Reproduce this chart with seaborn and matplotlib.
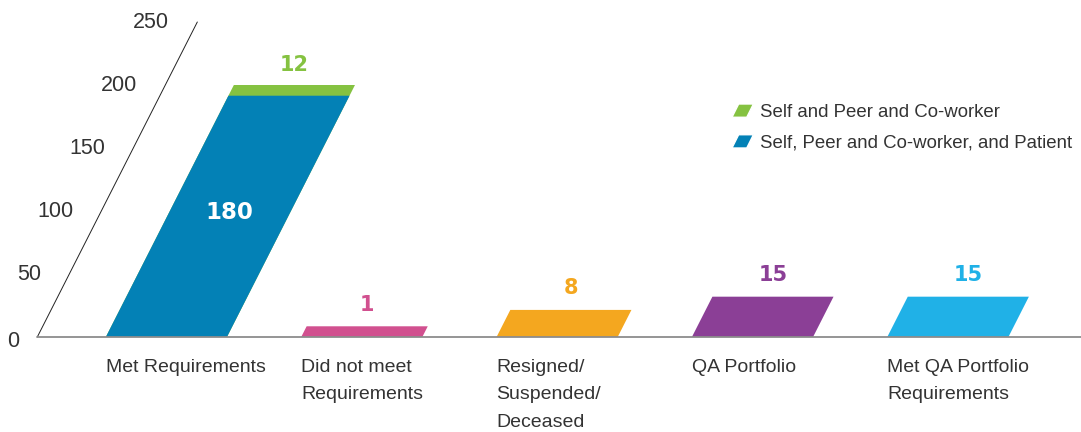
import numpy as np
import matplotlib
matplotlib.use('Agg')
import matplotlib.pyplot as plt
from matplotlib.transforms import Affine2D
from matplotlib.patches import Patch, Polygon
from matplotlib.legend_handler import HandlerPatch
import seaborn as sns

# data (heights as drawn on the slanted axis, labels as printed)
categories = ['Met Requirements', 'Did not meet\nRequirements', 'Resigned/\nSuspended/\nDeceased',
              'QA Portfolio', 'Met QA Portfolio\nRequirements']
bar_heights = [191.5, 8.5, 21.5, 32, 32]
bar_labels = ['180', '1', '8', '15', '15']
bar_colors = ['#0381b6', '#d1508f', '#f4a71f', '#8b3f96', '#20b1e7']
cap_height = [200]          # green segment stacked on the first bar
cap_label = '12'
cap_color = '#85c241'
legend_labels = ['Self and Peer and Co-worker', 'Self, Peer and Co-worker, and Patient']
yticks = [0, 50, 100, 150, 200, 250]

sns.set_style('white')
plt.rcParams['font.family'] = ['Liberation Sans', 'DejaVu Sans']

fig = plt.figure(figsize=(10.81, 4.32), dpi=100)
ax = fig.add_axes([0, 0, 1, 1])

# pixel geometry
px_x = 195.36   # px per category
x0 = 166.4      # px of first category centre
px_y = 1.26     # px per unit
base = 337      # baseline px from top
slope = 0.508   # horizontal px per vertical px
k = slope * px_y / px_x
skew = Affine2D().skew(np.arctan(k), 0) + ax.transData

sns.barplot(x=[categories[0]], y=cap_height, order=categories, color=cap_color,
            width=0.62, linewidth=0, saturation=1, ax=ax)
sns.barplot(x=categories, y=bar_heights, order=categories, hue=categories, palette=bar_colors,
            width=0.62, linewidth=0, saturation=1, legend=False, ax=ax)
for p in ax.patches:
    p.set_transform(skew)
    p.set_edgecolor('none')

ax.set_xlim(-x0 / px_x, (1081 - x0) / px_x)
ax.set_ylim(-(432 - base) / px_y, base / px_y)
ax.axis('off')

# baseline and slanted value axis
ax.axhline(0, xmin=37 / 1081, xmax=1, color='#8c8c8c', lw=1.3, zorder=3)
ax_x = (37.3 - x0) / px_x
ax.plot([ax_x, ax_x], [0, 250], transform=skew, color='#222222', lw=0.7)
x_min = (19 - x0) / px_x
for v in yticks:
    tx = max(ax_x + k * v - 28 / px_x, x_min)
    ty = v if v > 0 else -3.5
    ax.text(tx, ty, str(v), ha='right', va='center', fontsize=15.5, color='#333333')

# value labels
vfont = 'DejaVu Sans'
for i, (h, lab, c) in enumerate(zip(bar_heights, bar_labels, bar_colors)):
    if i == 0:
        ax.text(i + k * (h / 2 + 3), h / 2 + 3, lab, ha='center', va='center', fontsize=16.5,
                fontweight='bold', color='white', family=vfont)
    else:
        ax.text(i + k * h, h + 17, lab, ha='center', va='center', fontsize=15,
                fontweight='bold', color=c, family=vfont)
ax.text(k * cap_height[0], cap_height[0] + 16, cap_label, ha='center', va='center',
        fontsize=15, fontweight='bold', color=cap_color, family=vfont)

# category labels
for i, cat in enumerate(categories):
    ax.text(i - 0.31, -17.5, cat, ha='left', va='top', fontsize=14, color='#333333',
            linespacing=1.8)


def skew_patch(legend, orig_handle, xdescent, ydescent, width, height, fontsize):
    s = 0.5 * height
    return Polygon([[-xdescent, -ydescent], [-xdescent + width - s, -ydescent],
                    [-xdescent + width, -ydescent + height], [-xdescent + s, -ydescent + height]])


handles = [Patch(facecolor=cap_color), Patch(facecolor=bar_colors[0])]
ax.legend(handles, legend_labels, handler_map={Patch: HandlerPatch(patch_func=skew_patch)},
          loc='upper left', bbox_to_anchor=(732 / 1081, 1 - 104 / 432), bbox_transform=fig.transFigure,
          frameon=False, fontsize=13.4, handlelength=1.15, handleheight=0.72, handletextpad=0.35,
          labelspacing=0.73, borderpad=0, borderaxespad=0, labelcolor='#333333')

fig.savefig('out.png', dpi=100)
